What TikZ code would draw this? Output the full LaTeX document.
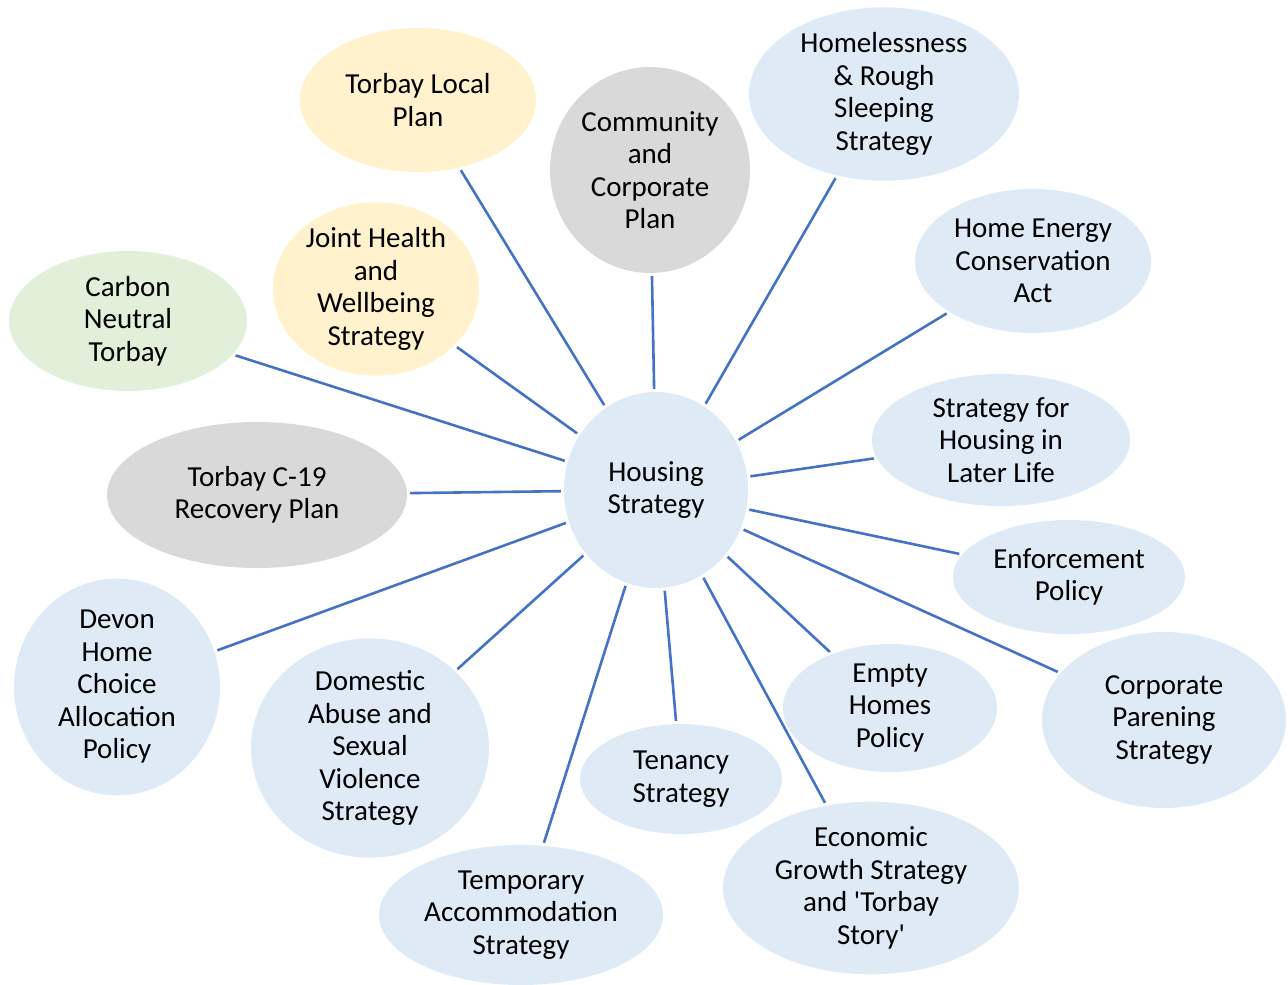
\documentclass[tikz,border=0pt]{standalone}
\usepackage{fontspec}
\setmainfont{Carlito}
\usetikzlibrary{shapes.geometric}

\definecolor{hsblue}{HTML}{DEEBF7}
\definecolor{hsyellow}{HTML}{FFF2CC}
\definecolor{hsgreen}{HTML}{E2F0D9}
\definecolor{hsgrey}{HTML}{D9D9D9}
\definecolor{hsline}{HTML}{4472C4}

\tikzset{
  plan/.style={ellipse, fill=hsblue, inner sep=0pt, align=center,
    font=\fontsize{29}{32.5}\selectfont},
  link/.style={draw=hsline, line width=2.6pt, shorten <=3pt, shorten >=3pt}
}

\begin{document}
\begin{tikzpicture}[x=1pt,y=-1pt]
			\useasboundingbox (0,0) rectangle (1288,985);
			% centre
			\node[plan, minimum width=184, minimum height=196] (hs) at (656,490) {Housing\\Strategy};
			% plans round it
			\node[plan, fill=hsyellow, minimum width=236, minimum height=144] (lp) at (418,100) {Torbay Local\\Plan};
			\node[plan, fill=hsgrey, minimum width=200, minimum height=206] (cc) at (650,170) {Community\\and\\Corporate\\Plan};
			\node[plan, minimum width=270, minimum height=172] (hr) at (884,94) {Homelessness\\\& Rough\\Sleeping\\Strategy};
			\node[plan, minimum width=236, minimum height=144] (he) at (1033,261) {Home Energy\\Conservation\\Act};
			\node[plan, fill=hsyellow, minimum width=206, minimum height=164] (jh) at (376,289) {Joint Health\\and\\Wellbeing\\Strategy};
			\node[plan, fill=hsgreen, minimum width=238, minimum height=140] (cn) at (128,321) {Carbon\\Neutral\\Torbay};
			\node[plan, minimum width=258, minimum height=132] (ll) at (1001,440) {Strategy for\\Housing in\\Later Life};
			\node[plan, fill=hsgrey, minimum width=300, minimum height=146] (rp) at (257,495) {Torbay C-19\\Recovery Plan};
			\node[plan, minimum width=232, minimum height=114] (ep) at (1069,577) {Enforcement\\Policy};
			\node[plan, minimum width=206, minimum height=190] (dh) at (117,687) {Devon\\Home\\Choice\\Allocation\\Policy};
			\node[plan, minimum width=238, minimum height=166] (da) at (370,748) {Domestic\\Abuse and\\Sexual\\Violence\\Strategy};
			\node[plan, minimum width=214, minimum height=128] (eh) at (890,708) {Empty\\Homes\\Policy};
			\node[plan, minimum width=244, minimum height=176] (cp) at (1164,720) {Corporate\\Parening\\Strategy};
			\node[plan, minimum width=202, minimum height=110] (ts) at (681,779) {Tenancy\\Strategy};
			\node[plan, minimum width=296, minimum height=166] (eg) at (871,888) {Economic\\Growth Strategy\\and \textquotesingle Torbay\\Story\textquotesingle};
			\node[plan, minimum width=284, minimum height=140] (ta) at (521,915) {Temporary\\Accommodation\\Strategy};
			% spokes
			\foreach \p in {lp,cc,hr,he,jh,cn,ll,rp,ep,dh,da,eh,cp,ts,eg,ta}
				\draw[link] (hs) -- (\p);
		\end{tikzpicture}
\end{document}
